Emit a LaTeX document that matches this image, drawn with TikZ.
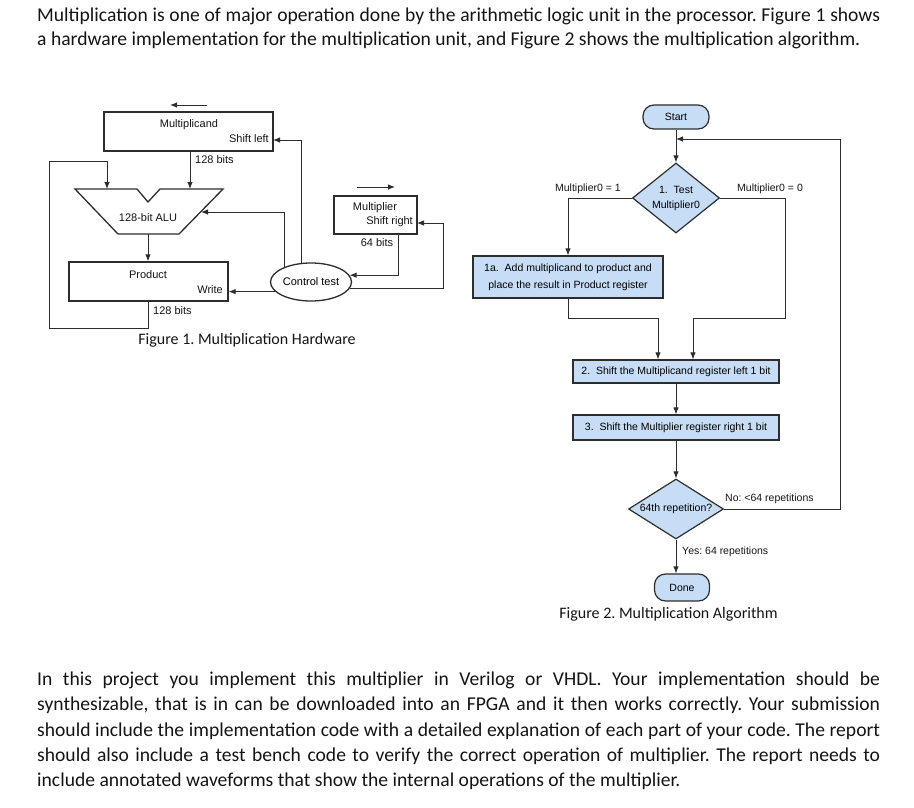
\documentclass[tikz,border=0pt]{standalone}
\usepackage{fontspec}
\setmainfont{Carlito}
\newfontfamily\diagfont{Liberation Sans}
\usetikzlibrary{arrows.meta,shapes.geometric}
\definecolor{boxblue}{RGB}{198,221,245}
\definecolor{inkgray}{RGB}{45,45,45}
\definecolor{bodyink}{RGB}{20,20,20}
\frenchspacing

\tikzset{
  body/.style={font=\fontsize{19.6}{23}\selectfont, text=bodyink, inner sep=0pt},
  figcap/.style={font=\fontsize{16}{19}\selectfont, text=bodyink, inner sep=0pt},
  reg/.style={rectangle, draw=inkgray, line width=1.3pt, inner sep=0pt},
  regline/.style={draw=inkgray, line width=1.3pt, line join=miter},
  lbl/.style={font=\diagfont\fontsize{11}{13}\selectfont, text=bodyink, inner sep=0pt},
  flbl/.style={font=\diagfont\fontsize{10.5}{13}\selectfont, text=bodyink, inner sep=0pt},
  ctl/.style={ellipse, draw=inkgray, line width=1.3pt, inner sep=0pt, minimum width=81pt, minimum height=38pt, font=\diagfont\fontsize{11}{13}\selectfont},
  wire/.style={draw=inkgray, line width=0.9pt},
  arr/.style={wire, -{Latex[length=7pt,width=5.5pt]}},
  stepbox/.style={rectangle, draw=inkgray, fill=boxblue, line width=1.2pt, inner sep=0pt, align=center, font=\diagfont\fontsize{10.5}{13}\selectfont},
  terminal/.style={stepbox, rounded corners=11pt},
  decision/.style={diamond, draw=inkgray, fill=boxblue, line width=1.2pt, inner sep=0pt, align=center, font=\diagfont\fontsize{10.5}{15}\selectfont},
}

\begin{document}
\begin{tikzpicture}[x=1pt,y=-1pt]
\useasboundingbox (0,0) rectangle (914,808);

% text above the figures
\node[body, anchor=base west] (intro1) at (37,22) {\makebox[843pt][s]{Multiplication is one of major operation done by the arithmetic logic unit in the processor. Figure 1 shows}};
\node[body, anchor=base west] (intro2) at (37,46) {a hardware implementation for the multiplication unit, and Figure 2 shows the multiplication algorithm.};

% Figure 1: hardware
\node[reg, minimum width=169pt, minimum height=39pt] (mcand) at (188.5,131.5) {};
\node[lbl] (mcandtxt) at (189,125) {Multiplicand};
\node[lbl, anchor=east] (mcandsh) at (269,139) {Shift left};
\draw[arr] (207,105) -- (170,105);

\draw[regline] (75,189) -- (137,189) -- (148,202) -- (160,189) -- (223,189) -- (179,234) -- (118,234) -- cycle;
\node[lbl] (alu) at (148,218) {128-bit ALU};
\coordinate (aluA) at (107,189);
\coordinate (aluB) at (190,189);
\coordinate (aluC) at (201,212);
\coordinate (aluOut) at (148,234);

\node[reg, minimum width=159pt, minimum height=39pt] (prod) at (148.5,281.5) {};
\node[lbl] (prodtxt) at (148,275) {Product};
\node[lbl, anchor=east] (prodwr) at (223,290) {Write};

\node[ctl] (ctrl) at (311,282) {Control test};

\node[reg, minimum width=83pt, minimum height=38pt] (mplier) at (375.5,215) {};
\node[lbl] (mpliertxt) at (375,208) {Multiplier};
\node[lbl, anchor=east] (mpliersh) at (413,222) {Shift right};
\draw[arr] (357,187) -- (395,187);
\node[lbl] (mplierw) at (377,243) {64 bits};

\coordinate (back) at (49,328);
\coordinate (backtop) at (49,161);
\coordinate (feed) at (443,288);
\coordinate (mcandin) at (273,140);
\coordinate (mplierin) at (417,223);

\draw[arr] (aluB |- mcand.south) -- (aluB);
\node[lbl, anchor=west] (mcandw) at (195,160) {128 bits};
\draw[arr] (aluOut) -- (aluOut |- prod.north);
\draw[arr] (aluOut |- prod.south) |- (back) -- (backtop) -| (aluA);
\node[lbl, anchor=west] (prodw) at (153,311) {128 bits};
\draw[arr] (ctrl.195) -- (ctrl.195 -| prod.east);
\draw[arr] (ctrl.150) |- (aluC);
\draw[arr] (ctrl.116) |- (mcandin);
\draw[arr] (ctrl.350) -- (ctrl.350 -| feed) |- (mplierin);
\draw[arr] ([xshift=22.5pt]mplier.south) |- (ctrl.10);

\node[figcap] (cap1) at (247,340) {Figure 1. Multiplication Hardware};

% Figure 2: algorithm
\node[terminal, minimum width=66pt, minimum height=24pt] (start) at (676,117) {Start};
\node[decision, aspect=1.24, minimum width=87pt, minimum height=70pt] (test1) at (676,198) {1.\ \ Test\\Multiplier0};
\node[stepbox, minimum width=190pt, minimum height=42pt, font=\diagfont\fontsize{10.5}{17}\selectfont] (add) at (568,277) {1a.\ \ Add multiplicand to product and\\place the result in Product register};
\node[stepbox, minimum width=206pt, minimum height=23pt] (shl) at (676,371.5) {2.\ \ Shift the Multiplicand register left 1 bit};
\node[stepbox, minimum width=206pt, minimum height=25pt] (shr) at (676,427.5) {3.\ \ Shift the Multiplier register right 1 bit};
\node[decision, aspect=1.6, minimum width=95pt, minimum height=60pt] (test2) at (676,509) {64th repetition?};
\node[terminal, minimum width=55pt, minimum height=27pt] (done) at (682,587.5) {Done};

\coordinate (rdown) at (785,318);
\coordinate (loop) at (840,139);
\coordinate (shlL) at ([xshift=-18pt]shl.north);
\coordinate (shlR) at ([xshift=17pt]shl.north);

\draw[arr] (start) -- (test1);
\draw[arr] (test1.west) -| (add.north);
\draw[arr] (test1.east) -| (rdown) -| (shlR);
\draw[arr] (add.south) |- (shlL |- rdown) -- (shlL);
\draw[arr] (shl) -- (shr);
\draw[arr] (shr) -- (test2);
\draw[arr] (test2.south) -- (test2.south |- done.north);
\draw[arr] (test2.east) -| (loop) -- (start.south |- loop);

\node[flbl, anchor=base east] (bit1) at (621,191) {Multiplier0 = 1};
\node[flbl, anchor=base west] (bit0) at (737,191) {Multiplier0 = 0};
\node[flbl, anchor=base west] (again) at (725,501) {No: <64 repetitions};
\node[flbl, anchor=base west] (enough) at (682,554) {Yes: 64 repetitions};

\node[figcap] (cap2) at (668.5,614) {Figure 2. Multiplication Algorithm};

% text below the figures
\node[body, anchor=base west] (task1) at (37,685) {\makebox[843pt][s]{In this project you implement this multiplier in Verilog or VHDL. Your implementation should be}};
\node[body, anchor=base west] (task2) at (37,710) {\makebox[843pt][s]{synthesizable, that is in can be downloaded into an FPGA and it then works correctly. Your submission}};
\node[body, anchor=base west] (task3) at (37,736) {\makebox[843pt][s]{should include the implementation code with a detailed explanation of each part of your code. The report}};
\node[body, anchor=base west] (task4) at (37,761) {\makebox[843pt][s]{should also include a test bench code to verify the correct operation of multiplier. The report needs to}};
\node[body, anchor=base west] (task5) at (37,786) {include annotated waveforms that show the internal operations of the multiplier.};
\end{tikzpicture}
\end{document}
